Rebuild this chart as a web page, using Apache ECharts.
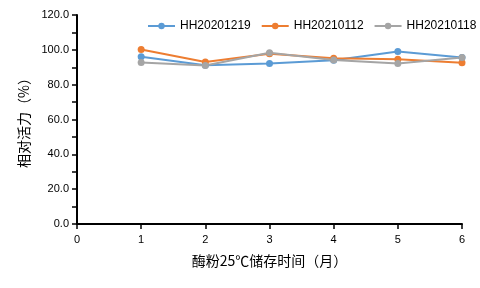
<!DOCTYPE html>
<html><head><meta charset="utf-8">
<script src="https://cdn.jsdelivr.net/npm/echarts@6/dist/echarts.min.js"></script>
<style>html,body{margin:0;padding:0;background:#fff}#c{width:480px;height:288px}</style>
</head><body><div id="c"></div>
<script>
const months = [1, 2, 3, 4, 5, 6];
const seriesNames = ['HH20201219', 'HH20210112', 'HH20210118'];
const s1 = [96.0, 91.2, 92.2, 94.0, 99.1, 95.6];
const s2 = [100.2, 93.0, 97.8, 95.2, 94.6, 92.6];
const s3 = [92.7, 91.0, 98.3, 94.2, 92.2, 95.6];
const colors = ['#5B9BD5', '#ED7D31', '#A5A5A5'];
const font = '"Microsoft YaHei","Noto Sans CJK SC","DejaVu Sans",sans-serif';
const chart = echarts.init(document.getElementById('c'));
const mk = (name, vals, i) => ({
  name, type: 'line', data: months.map((m, k) => [m, vals[k]]),
  symbol: 'circle', symbolSize: 7, color: colors[i],
  lineStyle: {width: 2, color: colors[i]}, itemStyle: {color: colors[i]}
});
chart.setOption({
  animation: false,
  textStyle: {fontFamily: font},
  legend: {
    top: 20, left: 147, width: 400, padding: 0, itemGap: 10, itemWidth: 27, itemHeight: 8,
    textStyle: {fontSize: 12, color: '#000', fontFamily: 'Arial,"Liberation Sans",sans-serif'},
    data: seriesNames
  },
  grid: {left: 77, right: 18, top: 15, bottom: 64},
  xAxis: {
    type: 'value', min: 0, max: 6, interval: 1,
    name: '酶粉25℃储存时间（月）', nameLocation: 'middle', nameGap: 30,
    nameTextStyle: {fontSize: 14, color: '#000', fontFamily: font},
    axisLine: {show: true, lineStyle: {color: '#000', width: 2}},
    axisTick: {show: true, length: 5, lineStyle: {color: '#000', width: 1.5}},
    axisLabel: {fontSize: 11, color: '#000', margin: 10, fontFamily: 'Arial,"Liberation Sans",sans-serif'},
    splitLine: {show: false}
  },
  yAxis: {
    type: 'value', min: 0, max: 120, interval: 20,
    name: '相对活力（%）', nameLocation: 'middle', nameGap: 46, nameRotate: 90,
    nameTextStyle: {fontSize: 14, color: '#000', fontFamily: font},
    axisLine: {show: true, lineStyle: {color: '#000', width: 2}},
    axisTick: {show: true, length: 5, lineStyle: {color: '#000', width: 1.5}},
    minorTick: {show: true, splitNumber: 2, length: 5, lineStyle: {color: '#000', width: 1.5}},
    axisLabel: {fontSize: 11, color: '#000', margin: 8, formatter: v => v.toFixed(1), fontFamily: 'Arial,"Liberation Sans",sans-serif'},
    splitLine: {show: false}
  },
  series: [mk(seriesNames[0], s1, 0), mk(seriesNames[1], s2, 1), mk(seriesNames[2], s3, 2)]
});
</script></body></html>
